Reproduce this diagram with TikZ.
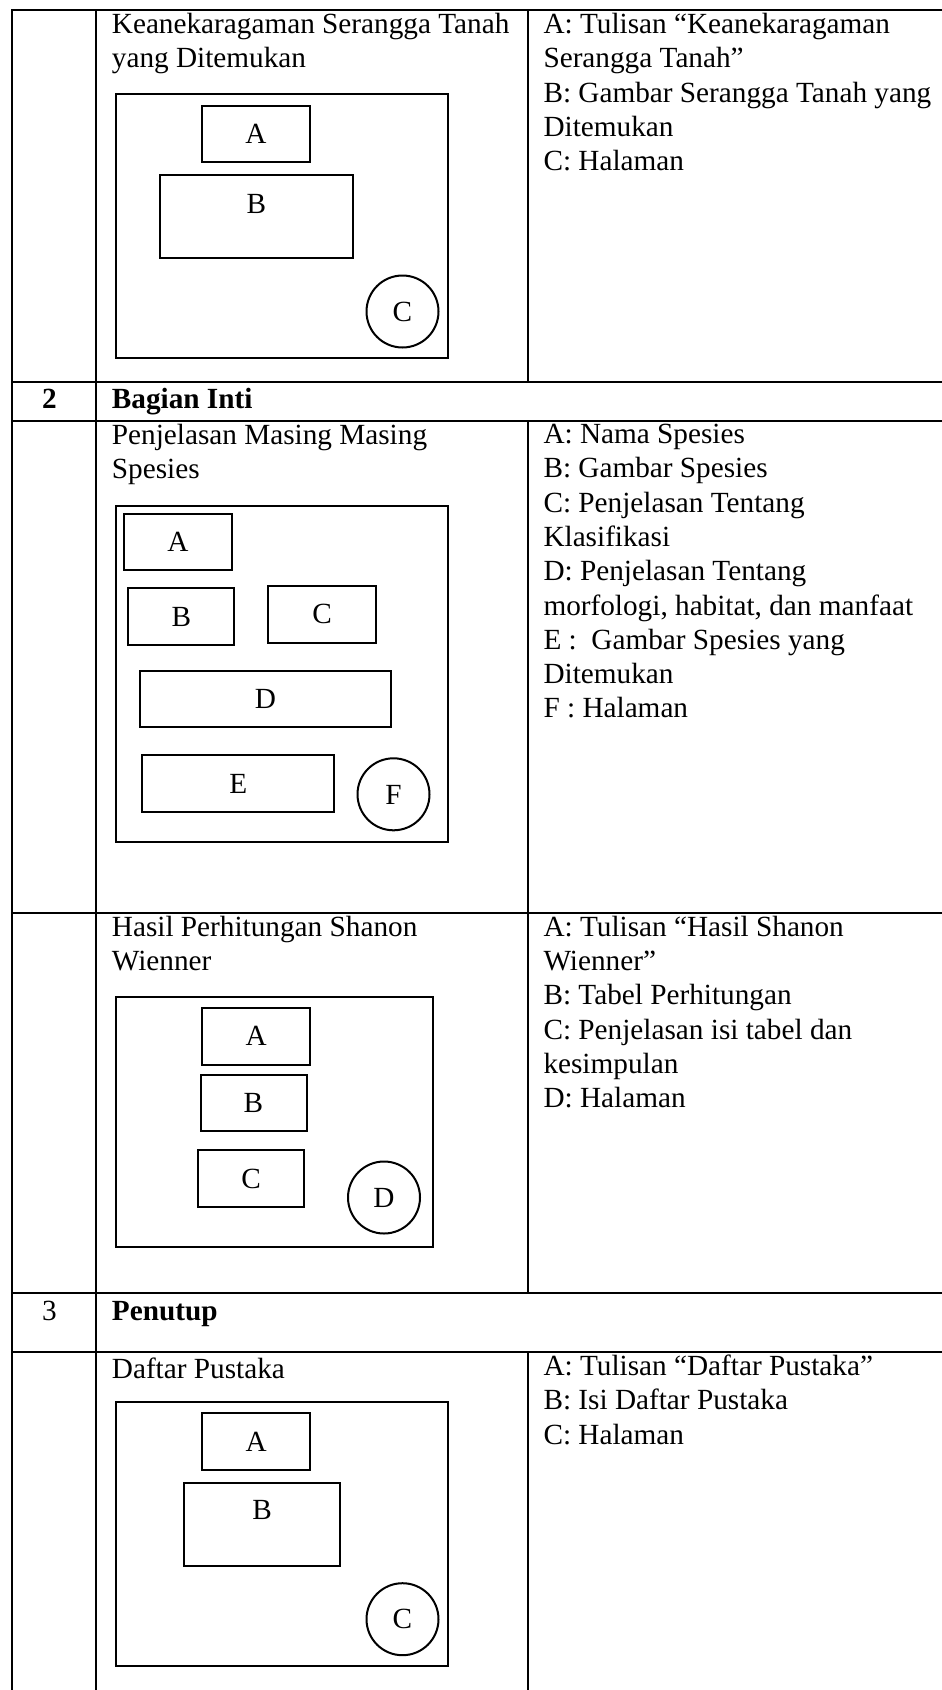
\documentclass[tikz,border=0pt]{standalone}
\usepackage{fontspec}
\setmainfont{Liberation Serif}
\newcommand{\bodysize}{\fontsize{29.25}{34.3}\selectfont}

\begin{document}
\begin{tikzpicture}[x=1pt,y=-1pt,font=\bodysize,
    tablerule/.style={line width=2pt,line cap=rect},
    sheet/.style 2 args={draw,line width=2pt,inner sep=0pt,anchor=north west,
      minimum width=#1,minimum height=#2},
    slot/.style 2 args={draw,line width=2pt,inner sep=0pt,anchor=north west,
      minimum width=#1,minimum height=#2,text height=19.5pt,text depth=0pt},
    pagenum/.style={draw,circle,line width=2pt,inner sep=0pt,minimum size=72pt,
      text height=19.5pt,text depth=0pt},
    celltext/.style={anchor=north west,align=left,inner sep=0pt,yshift=24.01pt,
      execute at begin node=\strut},
    rownum/.style={anchor=base,inner sep=0pt}]
  \useasboundingbox (0,0) rectangle (942,1690);

  % table rules:
  \foreach \y in {10,381.5,421,912.7,1293.3,1351.7}
     \draw[tablerule] (12.3,\y) -- (942,\y);
  \draw[tablerule] (12.3,10) -- (12.3,1690);
  \draw[tablerule] (95.7,10) -- (95.7,1690);
  \draw[tablerule] (527.7,10) -- (527.7,381.5) (527.7,421) -- (527.7,1293.3)
     (527.7,1351.7) -- (527.7,1690);

  % Keanekaragaman:
  \node[celltext] (keaL) at (111.7,37) {Keanekaragaman Serangga Tanah\\yang Ditemukan};
  \node[celltext] (keaR) at (543.3,37) {A: Tulisan “Keanekaragaman\\Serangga Tanah”\\B: Gambar Serangga Tanah yang\\Ditemukan\\C: Halaman};
  \node[sheet={332.4pt}{264.3pt}] (keaS) at (115,93) {};
  \node[slot={108pt}{56pt}] (keaA) at (201,105) {A};
  \node[slot={193pt}{83pt},text depth=26pt] (keaB) at (159,174) {B};
  \node[pagenum] (keaC) at (402.5,311.5) {C};

  % Bagian Inti:
  \node[rownum,font=\bodysize\bfseries] (no2) at (49.5,408.5) {2};
  \node[celltext,font=\bodysize\bfseries] (inti) at (111.7,408.5) {Bagian Inti};

  % Penjelasan:
  \node[celltext] (pjsL) at (111.7,448) {Penjelasan Masing Masing\\Spesies};
  \node[celltext] (pjsR) at (543.3,448) {A: Nama Spesies\\B: Gambar Spesies\\C: Penjelasan Tentang\\Klasifikasi\\D: Penjelasan Tentang\\morfologi, habitat, dan manfaat\\E :\ \ Gambar Spesies yang\\Ditemukan\\F : Halaman};
  \node[sheet={332.4pt}{335.5pt}] (pjsS) at (115,505) {};
  \node[slot={108pt}{56pt}] (pjsA) at (123,513) {A};
  \node[slot={106pt}{57pt}] (pjsB) at (127.4,587) {B};
  \node[slot={107.3pt}{57pt}] (pjsC) at (267.4,584.6) {C};
  \node[slot={250.3pt}{56pt}] (pjsD) at (139.4,670) {D};
  \node[slot={192pt}{57pt}] (pjsE) at (141.2,754) {E};
  \node[pagenum] (pjsF) at (393.5,794.3) {F};

  % Shanon Wienner:
  \node[celltext] (shwL) at (111.7,939.7) {Hasil Perhitungan Shanon\\Wienner};
  \node[celltext] (shwR) at (543.3,939.7) {A: Tulisan “Hasil Shanon\\Wienner”\\B: Tabel Perhitungan\\C: Penjelasan isi tabel dan\\kesimpulan\\D: Halaman};
  \node[sheet={316.5pt}{250.6pt}] (shwS) at (115,995.7) {};
  \node[slot={108pt}{57pt}] (shwA) at (201.3,1006.7) {A};
  \node[slot={106pt}{56.3pt}] (shwB) at (199.5,1074) {B};
  \node[slot={106.2pt}{57pt}] (shwC) at (197,1149.3) {C};
  \node[pagenum] (shwD) at (384,1197.5) {D};

  % Penutup:
  \node[rownum] (no3) at (49.5,1320) {3};
  \node[celltext,font=\bodysize\bfseries] (tutup) at (111.7,1320) {Penutup};

  % Daftar Pustaka:
  \node[celltext] (dpsL) at (111.7,1378.7) {Daftar Pustaka};
  \node[celltext] (dpsR) at (543.3,1378.7) {A: Tulisan “Daftar Pustaka”\\B: Isi Daftar Pustaka\\C: Halaman};
  \node[sheet={332.4pt}{264pt}] (dpsS) at (115,1400.7) {};
  \node[slot={108pt}{56.7pt}] (dpsA) at (201.3,1412.3) {A};
  \node[slot={156pt}{82.4pt},text depth=29pt] (dpsB) at (183.2,1482.3) {B};
  \node[pagenum] (dpsC) at (402.5,1619.2) {C};
\end{tikzpicture}
\end{document}
